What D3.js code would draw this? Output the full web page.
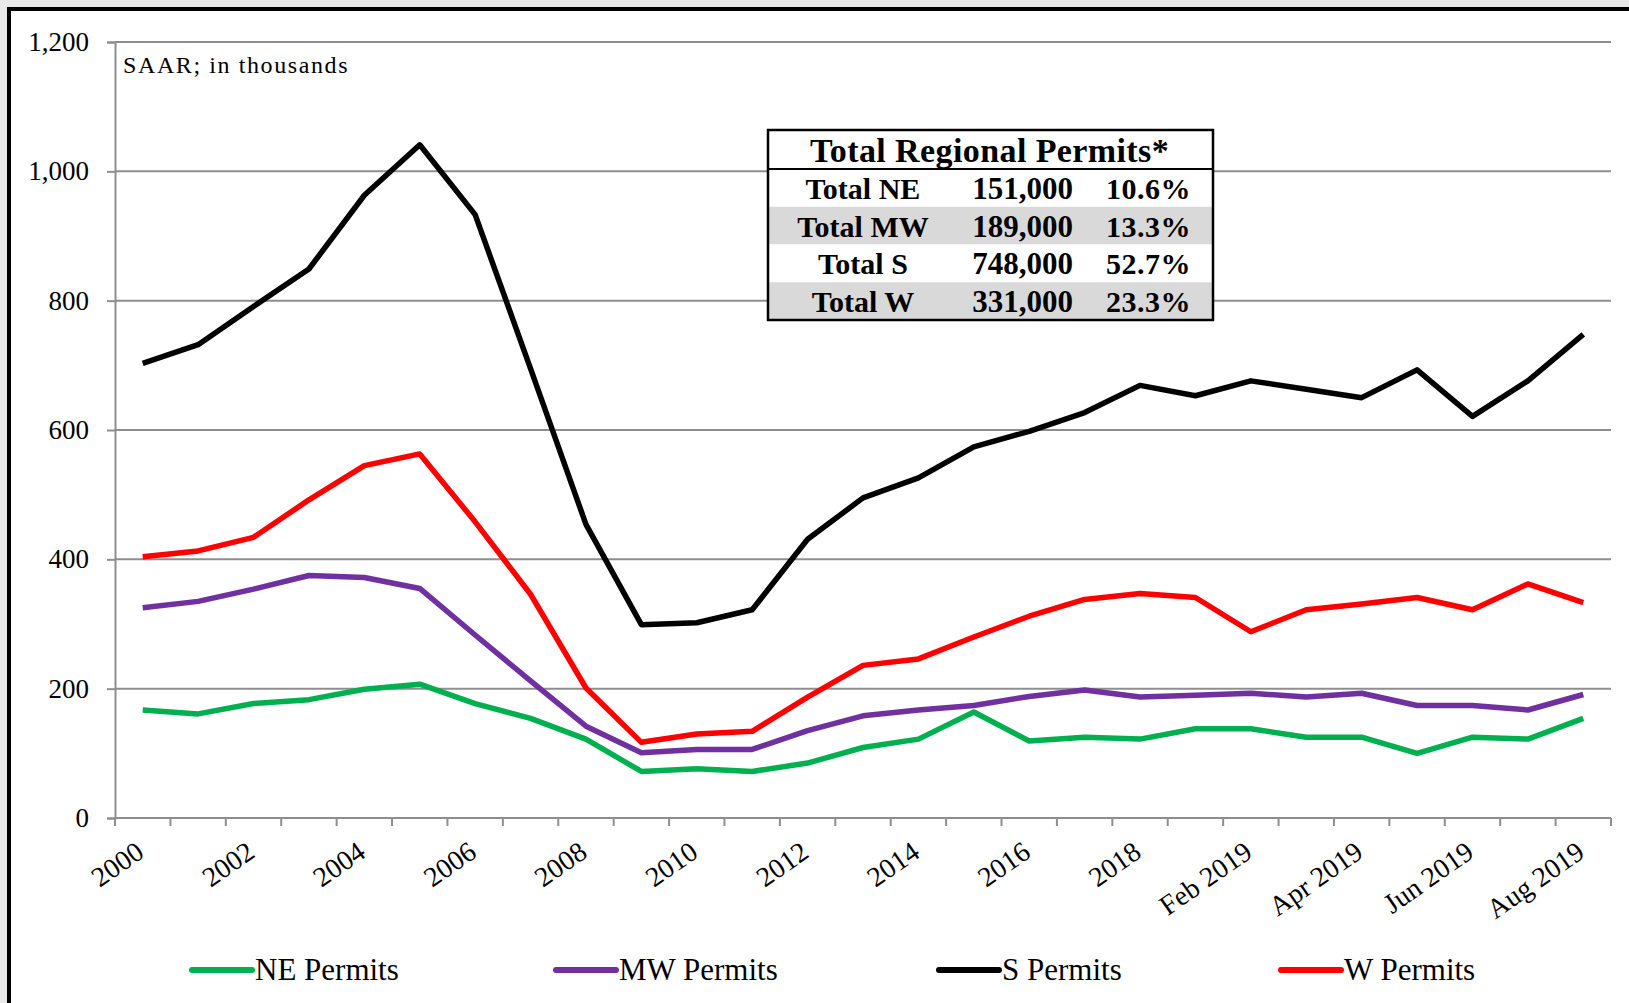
<!DOCTYPE html>
<html>
<head>
<meta charset="utf-8">
<script src="https://cdn.jsdelivr.net/npm/d3@7"></script>
<style>
  html, body { margin: 0; padding: 0; background: #ffffff; }
  svg { display: block; }
  text { font-family: "Liberation Serif", "Times New Roman", serif; }
</style>
</head>
<body>
<script>
// ---------- DATA ----------
const categories = ["2000","2001","2002","2003","2004","2005","2006","2007","2008","2009",
  "2010","2011","2012","2013","2014","2015","2016","2017","2018",
  "Jan 2019","Feb 2019","Mar 2019","Apr 2019","May 2019","Jun 2019","Jul 2019","Aug 2019"];
const xTickLabels = ["2000","2002","2004","2006","2008","2010","2012","2014","2016","2018",
  "Feb 2019","Apr 2019","Jun 2019","Aug 2019"];
const neValues = [167,161,177,183,199,207,177,154,122,72,76,72,85,109,122,164,119,125,122,138,138,125,125,100,125,122,154];
const mwValues = [325,335,354,375,372,355,283,212,142,101,106,106,135,158,167,174,188,198,187,190,193,187,193,174,174,167,191];
const sValues  = [703,732,791,849,963,1041,933,695,454,299,302,322,431,495,526,574,598,627,669,653,676,663,650,693,621,676,748];
const wValues  = [404,413,434,492,545,563,458,346,201,117,130,134,187,236,246,280,312,338,347,341,288,322,331,341,322,362,333];
const seriesNames = ["NE Permits","MW Permits","S Permits","W Permits"];
const yTicks = [0,200,400,600,800,1000,1200];
const unitNote = "SAAR; in thousands";
const tableTitle = "Total Regional Permits*";
const tableLabels = ["Total NE","Total MW","Total S","Total W"];
const tableTotals = ["151,000","189,000","748,000","331,000"];
const tableShares = ["10.6%","13.3%","52.7%","23.3%"];

// ---------- STYLE ----------
const W = 1629, H = 1003;
const colors = ["#00b050","#7030a0","#000000","#ff0000"];
const gridColor = "#8e8e8e";

const svg = d3.select("body").append("svg").attr("width", W).attr("height", H);

// slide background & chart frame
svg.append("rect").attr("x",0).attr("y",0).attr("width",W).attr("height",H).attr("fill","#e9e9e9");
svg.append("rect").attr("x",9).attr("y",9).attr("width",W+20).attr("height",H+20)
  .attr("fill","#ffffff").attr("stroke","#000").attr("stroke-width",4);

const plot = {left:115, right:1611, top:42, bottom:818};
const x = d3.scaleBand().domain(categories).range([plot.left, plot.right]).padding(0);
const cx = d => x(d) + x.bandwidth()/2;
const y = d3.scaleLinear().domain([0,1200]).range([plot.bottom, plot.top]);

// gridlines + y axis
const yAxis = d3.axisLeft(y).tickValues(yTicks).tickFormat(d3.format(",")).tickSize(8).tickPadding(18);
const gy = svg.append("g").attr("transform",`translate(${plot.left},0)`).call(yAxis);
gy.select(".domain").attr("stroke",gridColor).attr("stroke-width",2);
gy.selectAll(".tick line").attr("stroke",gridColor).attr("stroke-width",2);
gy.selectAll(".tick text").attr("font-size",27).attr("fill","#000")
  .style("font-family",'"Liberation Serif", serif');

svg.append("g").selectAll("line").data(yTicks).join("line")
  .attr("x1",plot.left).attr("x2",plot.right)
  .attr("y1",d=>y(d)).attr("y2",d=>y(d))
  .attr("stroke",gridColor).attr("stroke-width",2);

// x axis ticks at category boundaries
const boundaries = categories.map(c => x(c)).concat([plot.right]);
svg.append("g").selectAll("line").data(boundaries).join("line")
  .attr("x1",d=>d).attr("x2",d=>d).attr("y1",plot.bottom).attr("y2",plot.bottom+8)
  .attr("stroke",gridColor).attr("stroke-width",2);

// x labels
svg.append("g").selectAll("text").data(categories.filter(c => xTickLabels.includes(c))).join("text")
  .attr("transform", d => `translate(${cx(d)+3},${plot.bottom+38}) rotate(-35)`)
  .attr("text-anchor","end").attr("font-size",28).attr("fill","#000")
  .text(d => d);

// unit note
svg.append("text").attr("x",123).attr("y",73).attr("font-size",24)
  .attr("letter-spacing","1.6px").text(unitNote);

// lines
const allSeries = [neValues, mwValues, sValues, wValues];
const line = d3.line().x((d,i)=>cx(categories[i])).y(d=>y(d));
svg.append("g").selectAll("path").data(allSeries).join("path")
  .attr("d", d => line(d)).attr("fill","none")
  .attr("stroke",(d,i)=>colors[i]).attr("stroke-width",5.5)
  .attr("stroke-linejoin","round");

// table
const tbl = {x:768, y:130, w:445, headH:39, rowH:37.75};
const tg = svg.append("g");
tg.append("rect").attr("x",tbl.x).attr("y",tbl.y).attr("width",tbl.w)
  .attr("height",tbl.headH + tbl.rowH*tableLabels.length).attr("fill","#fff");
tg.selectAll("rect.row").data(tableLabels).join("rect").attr("class","row")
  .attr("x",tbl.x).attr("y",(d,i)=>tbl.y+tbl.headH+i*tbl.rowH)
  .attr("width",tbl.w).attr("height",tbl.rowH)
  .attr("fill",(d,i)=> i%2===1 ? "#d9d9d9" : "#ffffff");
tg.append("text").attr("x",tbl.x+tbl.w/2 - 1).attr("y",tbl.y+32)
  .attr("text-anchor","middle").attr("font-weight","bold").attr("font-size",34)
  .attr("letter-spacing","0.4px").text(tableTitle);
tg.append("line").attr("x1",tbl.x).attr("x2",tbl.x+tbl.w)
  .attr("y1",tbl.y+tbl.headH).attr("y2",tbl.y+tbl.headH).attr("stroke","#000").attr("stroke-width",2);
const rowBase = i => tbl.y+tbl.headH+i*tbl.rowH + tbl.rowH/2 + 11;
tg.selectAll("text.lab").data(tableLabels).join("text").attr("class","lab")
  .attr("x",863).attr("y",(d,i)=>rowBase(i)).attr("text-anchor","middle")
  .attr("font-weight","bold").attr("font-size",30).text(d=>d);
tg.selectAll("text.tot").data(tableTotals).join("text").attr("class","tot")
  .attr("x",1073).attr("y",(d,i)=>rowBase(i)).attr("text-anchor","end")
  .attr("font-weight","bold").attr("font-size",31).text(d=>d);
tg.selectAll("text.shr").data(tableShares).join("text").attr("class","shr")
  .attr("x",1191).attr("y",(d,i)=>rowBase(i)).attr("text-anchor","end")
  .attr("font-weight","bold").attr("font-size",30).attr("letter-spacing","0.5px").text(d=>d);
tg.append("rect").attr("x",tbl.x).attr("y",tbl.y).attr("width",tbl.w)
  .attr("height",tbl.headH + tbl.rowH*tableLabels.length)
  .attr("fill","none").attr("stroke","#000").attr("stroke-width",2.5);

// legend
const legendX = [192, 556, 939, 1281];
const lg = svg.append("g").selectAll("g").data(seriesNames).join("g")
  .attr("transform",(d,i)=>`translate(${legendX[i]},970)`);
lg.append("line").attr("x1",0).attr("x2",60).attr("y1",0).attr("y2",0)
  .attr("stroke",(d,i)=>colors[i]).attr("stroke-width",6).attr("stroke-linecap","round");
lg.append("text").attr("x",63).attr("y",10).attr("font-size",31).text(d=>d);
</script>
</body>
</html>
